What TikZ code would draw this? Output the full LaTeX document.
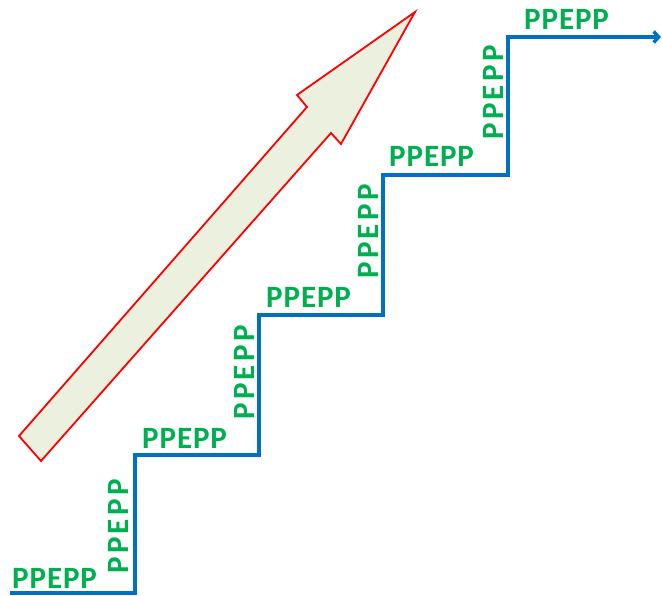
\documentclass[tikz,border=0pt]{standalone}
\usepackage{fontspec}
\setmainfont{Carlito}
\usetikzlibrary{arrows.meta}
\definecolor{stepblue}{HTML}{0070C0}
\definecolor{txtgreen}{HTML}{00B050}
\definecolor{arrfill}{HTML}{EBF1DE}
\tikzset{
  lbl/.style={text=txtgreen,inner sep=0pt},
  hlbl/.style={lbl,anchor=base west,font=\fontsize{31}{31}\selectfont\bfseries\addfontfeatures{LetterSpace=3}},
  vlbl/.style={lbl,anchor=base west,rotate=90,font=\fontsize{31}{31}\selectfont\bfseries\addfontfeatures{LetterSpace=11}},
  stair/.style={draw=stepblue,line width=3.5pt},
  bigarrow/.style={draw=red,line width=1.8pt,fill=arrfill,line join=miter}
}
\begin{document}
\begin{tikzpicture}[x=1pt,y=-1pt]
\useasboundingbox (0,0) rectangle (662,596);
% big arrow
\draw[bigarrow] (19,436) -- (307,107) -- (297,95) -- (415,12) -- (341,144) -- (331,133) -- (41,461) -- cycle;
% staircase
\coordinate (s0) at (10,593);
\coordinate (s1) at (135,593);
\coordinate (s2) at (135,455);
\coordinate (s3) at (259,455);
\coordinate (s4) at (259,315);
\coordinate (s5) at (383,315);
\coordinate (s6) at (383,175);
\coordinate (s7) at (508,175);
\coordinate (s8) at (508,37);
\coordinate (s9) at (661,37);
\draw[stair,-{Straight Barb[length=5pt,width=11pt]}] (s0) -- (s1) -- (s2) -- (s3) -- (s4) -- (s5) -- (s6) -- (s7) -- (s8) -- (s9);
% labels
\node[hlbl] (h1) at (12,588) {PPEPP};
\node[hlbl] (h2) at (142,448) {PPEPP};
\node[hlbl] (h3) at (266,308) {PPEPP};
\node[hlbl] (h4) at (389,167) {PPEPP};
\node[hlbl] (h5) at (524,30) {PPEPP};
\node[vlbl] (v1) at (128,574) {PPEPP};
\node[vlbl] (v2) at (254,420) {PPEPP};
\node[vlbl] (v3) at (378,279) {PPEPP};
\node[vlbl] (v4) at (503,140) {PPEPP};
\end{tikzpicture}
\end{document}
